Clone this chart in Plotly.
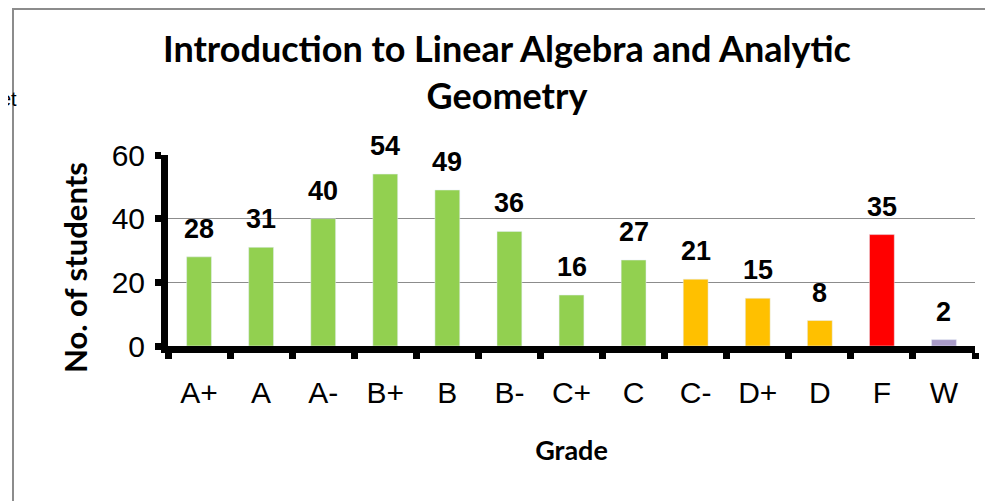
import plotly.graph_objects as go

# grade distribution
grades = ["A+", "A", "A-", "B+", "B", "B-", "C+", "C", "C-", "D+", "D", "F", "W"]
students = [28, 31, 40, 54, 49, 36, 16, 27, 21, 15, 8, 35, 2]
bar_colors = ["#92D050"] * 8 + ["#FFC000"] * 3 + ["#FF0000", "#A99BC8"]

W, H = 993, 501
OFF = 8  # page body margin shifts the figure
L, T = 168 - OFF, 155 - OFF
pw, ph = 807, 191
R, B = W - L - pw, H - T - ph


def px_x(x):
    return (x - OFF - L) / pw


def px_y(y):
    return (T + ph - (y - OFF)) / ph


fig = go.Figure()
fig.add_trace(go.Bar(x=grades, y=students, marker_color=bar_colors, width=0.4))

# value labels above the bars
for g, v in zip(grades, students):
    fig.add_annotation(x=g, y=v, text=str(v), showarrow=False,
                       yanchor="bottom", yshift=11,
                       font=dict(family="Liberation Sans", size=27, color="black", weight="bold"))

fig.update_layout(
    width=W, height=H,
    margin=dict(l=L, r=R, t=T, b=B),
    paper_bgcolor="white", plot_bgcolor="white",
    showlegend=False,
    title=dict(
        text="Introduction to Linear Algebra and Analytic<br>Geometry",
        x=(507 - OFF) / W, xanchor="center", y=1 - 54 / H, yanchor="middle",
        font=dict(family="Lato", size=36, color="black", weight="bold"),
    ),
    xaxis=dict(
        automargin=False,
        showline=True, linecolor="black", linewidth=7,
        ticks="outside", tickson="boundaries", ticklen=6, tickwidth=7, tickcolor="black",
        ticklabelstandoff=14,
        tickfont=dict(family="Liberation Sans", size=30, color="black"),
        title=dict(text="Grade", standoff=36,
                   font=dict(family="Lato", size=27, color="black", weight="bold")),
    ),
    yaxis=dict(
        automargin=False,
        range=[0, 60], tickvals=[0, 20, 40, 60],
        showline=True, linecolor="black", linewidth=7,
        ticks="outside", ticklen=6, tickwidth=7, tickcolor="black",
        ticklabelstandoff=4,
        showgrid=True, gridcolor="#8C8C8C", gridwidth=1, zeroline=False,
        tickfont=dict(family="Liberation Sans", size=30, color="black"),
    ),
    bargap=0.6,
)

# y axis title, placed as in the original (slightly below the plot centre)
fig.add_annotation(text="<b>No. of students</b>", xref="paper", yref="paper",
                   x=px_x(75), y=px_y(268), textangle=-90, showarrow=False,
                   xanchor="center", yanchor="middle",
                   font=dict(family="Lato", size=31, color="black"))

# outer chart border
fig.add_shape(type="rect", xref="paper", yref="paper",
              x0=px_x(13), x1=px_x(1100), y0=px_y(600), y1=px_y(9),
              line=dict(color="#8C8C8C", width=2), fillcolor="rgba(0,0,0,0)", layer="below")

fig.add_annotation(text="et", xref="paper", yref="paper", x=px_x(19), y=px_y(99),
                   xanchor="right", yanchor="middle", showarrow=False,
                   font=dict(family="Liberation Sans", size=20, color="black"))

fig.write_html("out.html")
